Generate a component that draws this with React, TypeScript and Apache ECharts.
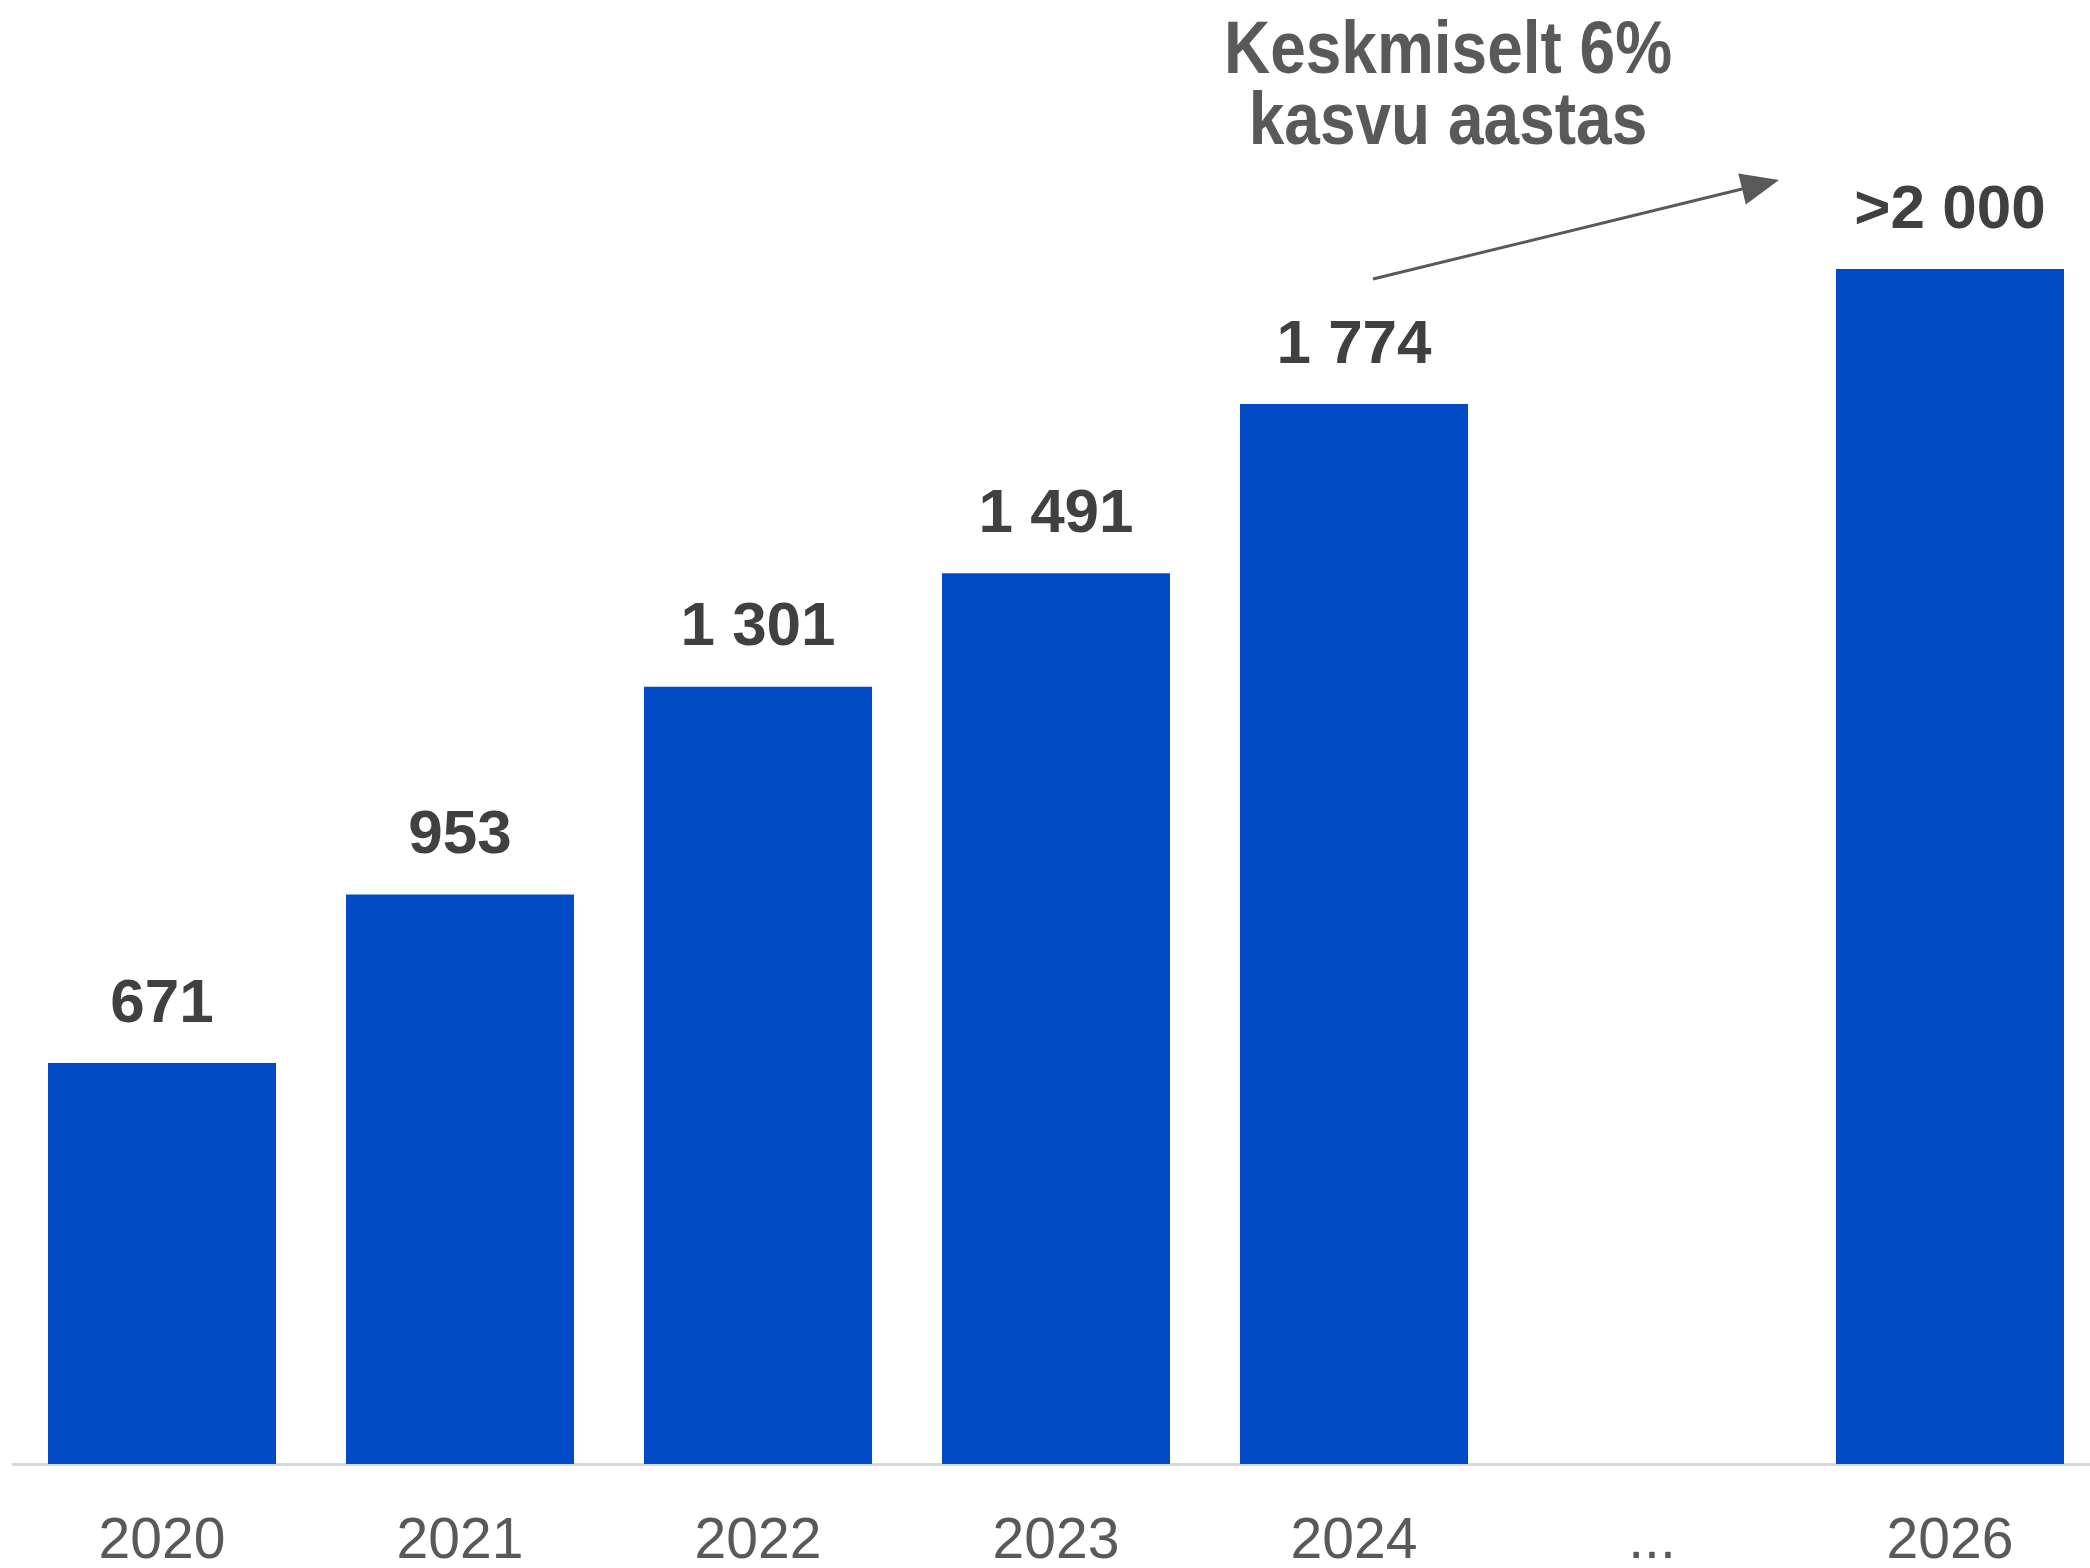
import React, { useEffect, useRef } from "react";
import * as echarts from "echarts";

const categories = ["2020", "2021", "2022", "2023", "2024", "...", "2026"];
const values: (number | null)[] = [671, 953, 1301, 1491, 1774, null, 2000];
const valueLabels = ["671", "953", "1 301", "1 491", "1 774", "", ">2 000"];
const annotationLines = ["Keskmiselt 6%", "kasvu aastas"];

export default function App() {
  const ref = useRef<HTMLDivElement>(null);
  useEffect(() => {
    document.body.style.margin = "0";
    document.body.style.overflow = "hidden";
    document.documentElement.style.overflow = "hidden";
    if (!ref.current) return;
    const chart = echarts.init(ref.current, undefined, { renderer: "svg" });

    // arrow geometry
    const sx = 1373, sy = 279, tx = 1779, ty = 180;
    const dx = tx - sx, dy = ty - sy;
    const len = Math.sqrt(dx * dx + dy * dy);
    const ux = dx / len, uy = dy / len;
    const headL = 38, headW = 16;
    const bx = tx - ux * headL, by = ty - uy * headL;
    const nx = -uy, ny = ux;

    chart.setOption({
      animation: false,
      backgroundColor: "#ffffff",
      grid: { left: 13, width: 2086, top: 30, bottom: 104 },
      xAxis: {
        type: "category",
        data: categories,
        axisTick: { show: false },
        axisLine: { show: true, lineStyle: { color: "#d9d9d9", width: 3 } },
        axisLabel: {
          color: "#595959",
          fontSize: 57,
          fontFamily: "Liberation Sans, Arial, sans-serif",
          margin: 45,
        },
      },
      yAxis: {
        type: "value",
        min: 0,
        max: 2400,
        show: false,
        splitLine: { show: false },
      },
      series: [
        {
          type: "bar",
          data: values,
          barWidth: 228,
          itemStyle: { color: "#004BC5" },
          label: {
            show: true,
            position: "top",
            distance: 32,
            color: "#404040",
            fontSize: 62,
            fontWeight: "bold",
            fontFamily: "Liberation Sans, Arial, sans-serif",
            formatter: (p: any) => valueLabels[p.dataIndex],
          },
        },
      ],
      graphic: [
        {
          type: "text",
          x: 1448,
          y: 12,
          scaleY: 1.15,
          style: {
            text: annotationLines.join("\n"),
            fill: "#595959",
            font: "bold 64px 'Liberation Sans', Arial, sans-serif",
            lineHeight: 62,
            textAlign: "center",
            textVerticalAlign: "top",
          },
        },
        {
          type: "line",
          shape: { x1: sx, y1: sy, x2: bx, y2: by },
          style: { stroke: "#595959", lineWidth: 3 },
        },
        {
          type: "polygon",
          shape: {
            points: [
              [tx, ty],
              [bx + nx * headW, by + ny * headW],
              [bx - nx * headW, by - ny * headW],
            ],
          },
          style: { fill: "#595959" },
        },
      ],
    });
    return () => chart.dispose();
  }, []);
  return <div ref={ref} style={{ width: 2110, height: 1568 }} />;
}
